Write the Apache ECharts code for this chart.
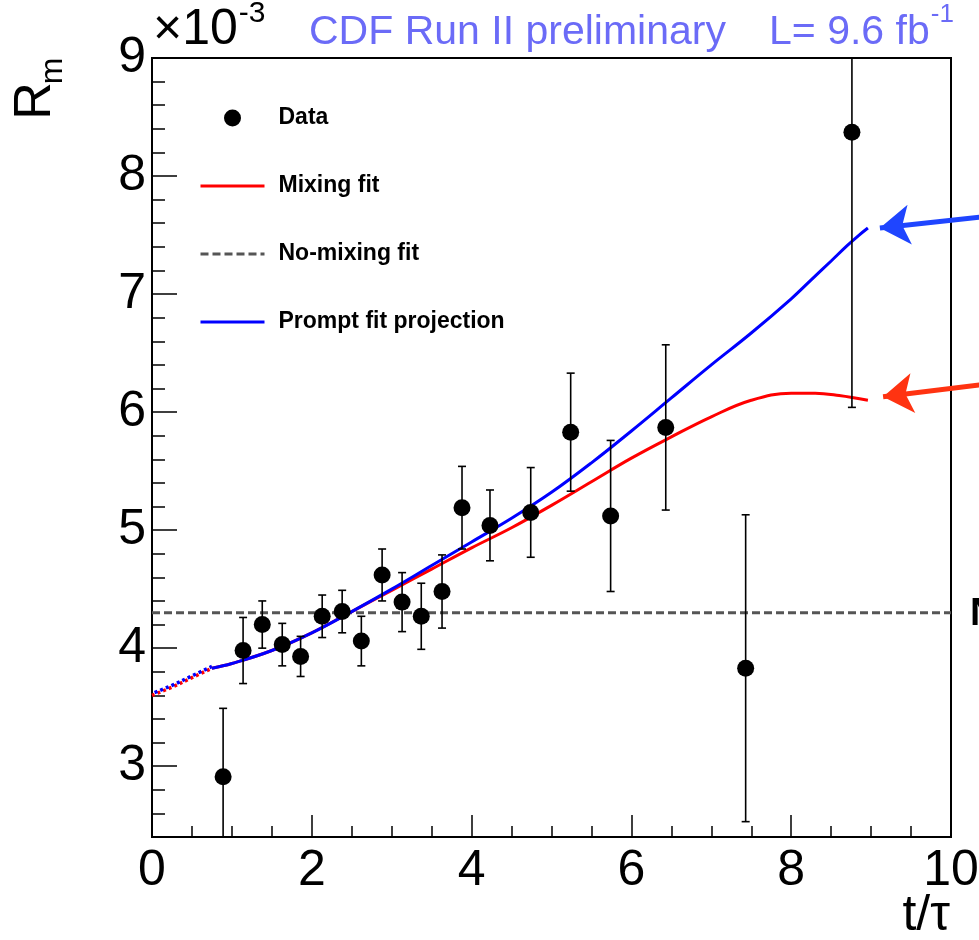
<!DOCTYPE html>
<html><head><meta charset="utf-8">
<script src="https://cdn.jsdelivr.net/npm/echarts@6/dist/echarts.min.js"></script>
<style>html,body{margin:0;padding:0;background:#fff}#c{width:979px;height:940px}</style>
</head><body><div id="c"></div>
<script>
// ---- data (y values in units of 1e-3) ----
const dataX   = [0.89, 1.14, 1.38, 1.63, 1.86, 2.13, 2.38, 2.62, 2.88, 3.13, 3.37, 3.63, 3.88, 4.23, 4.74, 5.24, 5.74, 6.43, 7.43, 8.76];
const dataY   = [2.91, 3.98, 4.20, 4.03, 3.93, 4.27, 4.31, 4.06, 4.62, 4.39, 4.27, 4.48, 5.19, 5.04, 5.15, 5.83, 5.12, 5.87, 3.83, 8.37];
const dataErr = [0.58, 0.28, 0.20, 0.18, 0.17, 0.18, 0.18, 0.21, 0.22, 0.25, 0.28, 0.31, 0.35, 0.30, 0.38, 0.50, 0.64, 0.70, 1.30, 2.33];

const mixX = [0.75, 1.0, 1.5, 2.0, 2.5, 3.0, 3.5, 4.0, 4.5, 5.0, 5.5, 6.0, 6.5, 7.0, 7.5, 8.0, 8.3, 8.6, 8.96];
const mixY = [3.83, 3.87, 3.98, 4.13, 4.31, 4.49, 4.67, 4.85, 5.02, 5.21, 5.41, 5.61, 5.79, 5.96, 6.10, 6.16, 6.16, 6.14, 6.10];

const promptX = [0.75, 1.0, 1.5, 2.0, 2.5, 3.0, 3.5, 4.0, 4.5, 5.0, 5.5, 6.0, 6.5, 7.0, 7.5, 8.0, 8.25, 8.5, 8.7, 8.85, 8.96];
const promptY = [3.83, 3.87, 3.98, 4.13, 4.31, 4.50, 4.70, 4.90, 5.10, 5.32, 5.57, 5.84, 6.12, 6.40, 6.67, 6.96, 7.12, 7.28, 7.41, 7.50, 7.56];

const extX = [0.0, 0.25, 0.5, 0.75];
const extY = [3.60, 3.67, 3.75, 3.83];

const noMixY = 4.30;
const noMixX = [0, 10];

const blueArrow = [[10.6, 7.67], [9.11, 7.56]];
const redArrow  = [[10.6, 6.25], [9.15, 6.13]];

const xMin = 0, xMax = 10, xStep = 2;
const yMin = 2.4, yMax = 9;

const legendNames = ['Data', 'Mixing fit', 'No-mixing fit', 'Prompt fit projection'];

// ---- chart ----
const FONT = "'Liberation Sans', Arial, Helvetica, sans-serif";
function tw(text, size, weight) {
  const c = document.createElement('canvas').getContext('2d');
  c.font = (weight || 'normal') + ' ' + size + 'px ' + FONT;
  return c.measureText(text).width;
}
const zip = (xs, ys) => xs.map((x, i) => [x, ys[i]]);

const chart = echarts.init(document.getElementById('c'), null, {renderer: 'canvas'});

const capW = 4;
const option = {
  animation: false,
  backgroundColor: '#fff',
  grid: {left: 152, right: 28, top: 58, bottom: 103, show: true, borderColor: '#000', borderWidth: 2,
         containLabel: false, outerBoundsMode: 'none'},
  legend: {
    data: legendNames.map((n, i) => i === 0 ? {name: n} : {name: n, itemStyle: {opacity: 0}}),
    orient: 'vertical', left: 199, top: 104, padding: 0,
    itemWidth: 64, itemHeight: 17, itemGap: 40, selectedMode: false,
    lineStyle: {width: 3},
    textStyle: {fontSize: 23, fontWeight: 'bold', fontFamily: FONT, color: '#000', lineHeight: 28, padding: [0, 0, 0, 9]}
  },
  xAxis: {
    type: 'value', min: xMin, max: xMax, interval: xStep,
    axisLine: {show: true, onZero: false, lineStyle: {color: '#000', width: 2}},
    axisTick: {show: true, inside: true, length: 22, lineStyle: {color: '#000', width: 1.5}},
    minorTick: {show: true, splitNumber: 4, length: 11, lineStyle: {color: '#000', width: 1.5}},
    splitLine: {show: false},
    axisLabel: {fontSize: 50, fontFamily: FONT, color: '#000', margin: 9, lineHeight: 50}
  },
  yAxis: {
    type: 'value', min: yMin, max: yMax, splitNumber: 6,
    axisLine: {show: true, onZero: false, lineStyle: {color: '#000', width: 2}},
    axisTick: {show: true, inside: true, length: 25, lineStyle: {color: '#000', width: 1.5}},
    minorTick: {show: true, splitNumber: 5, length: 13, lineStyle: {color: '#000', width: 1.5}},
    splitLine: {show: false},
    axisLabel: {fontSize: 50, fontFamily: FONT, color: '#000', margin: 6, showMinLabel: false,
      formatter: v => Math.abs(v - Math.round(v)) < 1e-6 ? String(Math.round(v)) : ''}
  },
  series: [
    {name: 'No-mixing fit', type: 'line', data: zip(noMixX, [noMixY, noMixY]), symbol: 'none', z: 2,
     lineStyle: {color: '#555', width: 3, type: [8, 4]}, itemStyle: {color: '#555'}},
    {name: 'extRed', type: 'line', data: zip(extX, extY), symbol: 'none', z: 3, smooth: true,
     lineStyle: {color: '#ff0000', width: 3.5, type: [3, 3], dashOffset: 0}},
    {name: 'extBlue', type: 'line', data: zip(extX, extY.map(v => v + 0.015)), symbol: 'none', z: 3, smooth: true,
     lineStyle: {color: '#0000ff', width: 3.5, type: [3, 3], dashOffset: 3}},
    {name: 'Mixing fit', type: 'line', data: zip(mixX, mixY), symbol: 'none', smooth: 0.4, z: 3,
     lineStyle: {color: '#ff0000', width: 3}, itemStyle: {color: '#ff0000'}},
    {name: 'Prompt fit projection', type: 'line', data: zip(promptX, promptY), symbol: 'none', smooth: 0.4, z: 4,
     lineStyle: {color: '#0000ff', width: 3}, itemStyle: {color: '#0000ff'}},
    {name: 'errors', type: 'custom', z: 5, clip: true,
     data: dataX.map((x, i) => [x, dataY[i], dataErr[i]]),
     renderItem: (params, api) => {
       const x = api.value(0), y = api.value(1), e = api.value(2);
       const t = api.coord([x, y + e]), b = api.coord([x, y - e]);
       const st = {stroke: '#000', lineWidth: 1.6};
       return {type: 'group', children: [
         {type: 'line', shape: {x1: t[0], y1: t[1], x2: b[0], y2: b[1]}, style: st},
         {type: 'line', shape: {x1: t[0] - capW, y1: t[1], x2: t[0] + capW, y2: t[1]}, style: st},
         {type: 'line', shape: {x1: b[0] - capW, y1: b[1], x2: b[0] + capW, y2: b[1]}, style: st}
       ]};
     }},
    {name: 'Data', type: 'scatter', data: zip(dataX, dataY), symbol: 'circle', symbolSize: 17, z: 6,
     itemStyle: {color: '#000', opacity: 1}},
    {name: 'arrowBlue', type: 'lines', coordinateSystem: 'cartesian2d', clip: false, z: 7,
     symbol: ['none', 'arrow'], symbolSize: [26, 30],
     lineStyle: {color: '#1f45ff', width: 5, opacity: 1, curveness: 0},
     data: [{coords: blueArrow}]},
    {name: 'arrowRed', type: 'lines', coordinateSystem: 'cartesian2d', clip: false, z: 7,
     symbol: ['none', 'arrow'], symbolSize: [26, 30],
     lineStyle: {color: '#ff3311', width: 5, opacity: 1, curveness: 0},
     data: [{coords: redArrow}]}
  ],
  graphic: [
    {type: 'text', x: 153, y: 30, style: {text: '×10', fontSize: 50, fontFamily: FONT, fill: '#000', align: 'left', verticalAlign: 'middle'}},
    {type: 'text', x: 153 + tw('×10', 50) + 1, y: 14, style: {text: '-3', fontSize: 30, fontFamily: FONT, fill: '#000', align: 'left', verticalAlign: 'middle'}},
    {type: 'text', x: 309, y: 33, style: {text: 'CDF Run II preliminary', fontSize: 41, fontFamily: FONT, fill: '#6b6bf7', align: 'left', verticalAlign: 'middle'}},
    {type: 'text', x: 769, y: 33, style: {text: 'L= 9.6 fb', fontSize: 41, fontFamily: FONT, fill: '#6b6bf7', align: 'left', verticalAlign: 'middle'}},
    {type: 'text', x: 769 + tw('L= 9.6 fb', 41) + 1, y: 15, style: {text: '-1', fontSize: 26, fontFamily: FONT, fill: '#6b6bf7', align: 'left', verticalAlign: 'middle'}},
    {type: 'text', x: 36, y: 101, rotation: Math.PI / 2, style: {text: 'R', fontSize: 52, fontFamily: FONT, fill: '#000', align: 'center', verticalAlign: 'middle'}},
    {type: 'text', x: 53, y: 71, rotation: Math.PI / 2, style: {text: 'm', fontSize: 32, fontFamily: FONT, fill: '#000', align: 'center', verticalAlign: 'middle'}},
    {type: 'text', x: 950, y: 916, style: {text: 't/τ', fontSize: 50, fontFamily: FONT, fill: '#000', align: 'right', verticalAlign: 'middle'}},
    {type: 'text', x: 970, y: 614, style: {text: 'No mixing', fontSize: 39, fontWeight: 'bold', fontFamily: FONT, fill: '#000', align: 'left', verticalAlign: 'middle'}}
  ]
};
chart.setOption(option);
</script>
</body></html>
